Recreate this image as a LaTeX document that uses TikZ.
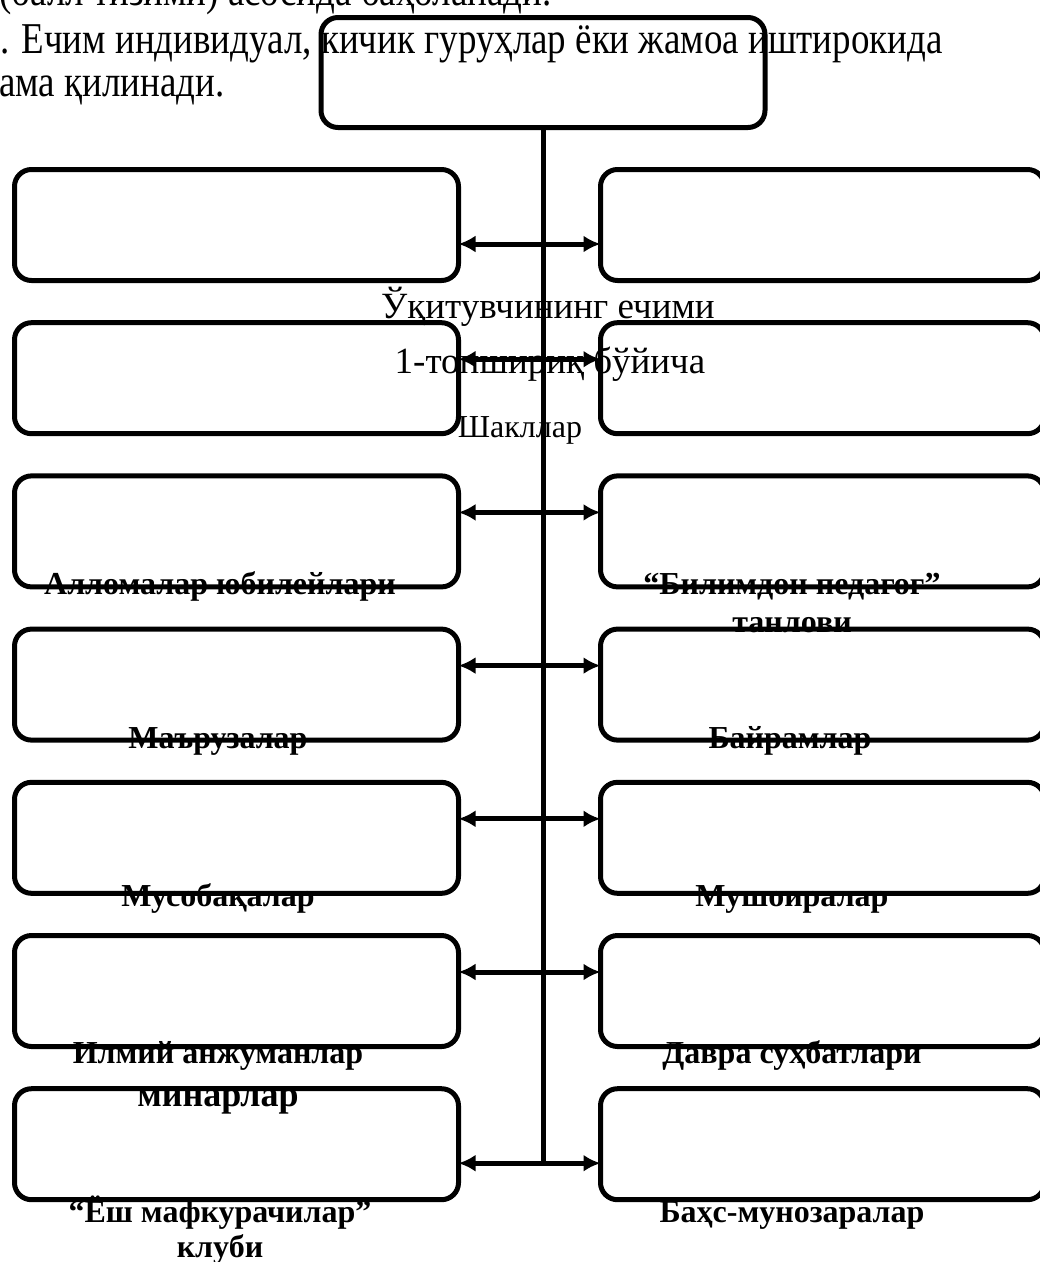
\documentclass[tikz,border=0pt]{standalone}
\usepackage{fontspec}
\setmainfont{Liberation Serif}
\newfontfamily\tallserif[FakeStretch=0.84]{Liberation Serif}
\usetikzlibrary{arrows.meta,calc}
\tikzset{>={Latex[length=17pt,width=17pt]}}
\tikzstyle{cell}=[rectangle,draw=black,line width=5pt,rounded corners=17pt,minimum width=444pt,minimum height=111pt,inner sep=0pt,outer sep=0pt]
\tikzstyle{paratext}=[inner sep=0pt,anchor=base west,font=\tallserif\fontsize{44}{43}\selectfont]
\tikzstyle{midtext}=[inner sep=0pt,anchor=base,font=\fontsize{37}{43}\selectfont]
\tikzstyle{formtext}=[inner sep=0pt,anchor=base,font=\fontsize{32}{38}\selectfont\bfseries]
\tikzstyle{linkline}=[line width=5pt]

\begin{document}
\begin{tikzpicture}[x=1pt,y=-1pt]
	\useasboundingbox (0,0) rectangle (1040,1262);
	\clip (0,0) rectangle (1040,1262);
	\def \lx {236.5};
	\def \rx {822.5};
	\def \cx {543};
	\def \ystart {225};
	\def \vdist {153.2};
	\def \NR {7};

	% page text behind the scheme
	\node[paratext] (line0) at (-1,5) {(балл тизими) асосида баҳоланади.};
	\node[paratext] (line1) at (0,53) {. Ечим индивидуал, кичик гуруҳлар ёки жамоа иштирокида};
	\node[paratext] (line2) at (-1,96) {ама қилинади.};

	\node[midtext] (teacher) at (548,318) {Ўқитувчининг ечими};
	\node[midtext] (task) at (550,373) {1-топшириқ бўйича};
	\node[midtext, font=\fontsize{32}{38}\selectfont] (forms) at (520,437) {Шакллар};

	% forms
	\node[formtext] (jubilee) at (220,594) {Алломалар юбилейлари};
	\node[formtext] (contest) at (792,594) {“Билимдон педагог”};
	\node[formtext] (contest2) at (792,632) {танлови};
	\node[formtext] (lectures) at (218,748) {Маърузалар};
	\node[formtext] (holidays) at (790,748) {Байрамлар};
	\node[formtext] (games) at (218,906) {Мусобақалар};
	\node[formtext] (poetry) at (792,906) {Мушоиралар};
	\node[formtext] (confs) at (218,1063) {Илмий анжуманлар};
	\node[formtext, font=\fontsize{36}{42}\selectfont\bfseries] (seminars) at (218,1106) {минарлар};
	\node[formtext] (talks) at (792,1063) {Давра суҳбатлари};
	\node[formtext] (club) at (220,1222) {“Ёш мафкурачилар”};
	\node[formtext] (club2) at (220,1257) {клуби};
	\node[formtext] (debates) at (792,1222) {Баҳс-мунозаралар};

	% boxes
	\node[cell, minimum height=110pt] (top) at (\cx,72.5) {};
	\foreach \i in {1,...,\NR} {
		\node[cell] (L\i) at (\lx, \ystart+\i*\vdist-\vdist) {};
		\node[cell] (R\i) at (\rx, \ystart+\i*\vdist-\vdist) {};
	};

	\foreach \i/\dy in {1/19,2/-19,3/-19,4/-19,5/-19,6/-19,7/19} {
		\coordinate (a\i) at (\cx, \ystart+\i*\vdist-\vdist+\dy);
		\draw[linkline,<->] (L\i.east |- a\i) -- (R\i.west |- a\i);
	};
	\draw[linkline] (top.south) -- (a7);
\end{tikzpicture}
\end{document}
